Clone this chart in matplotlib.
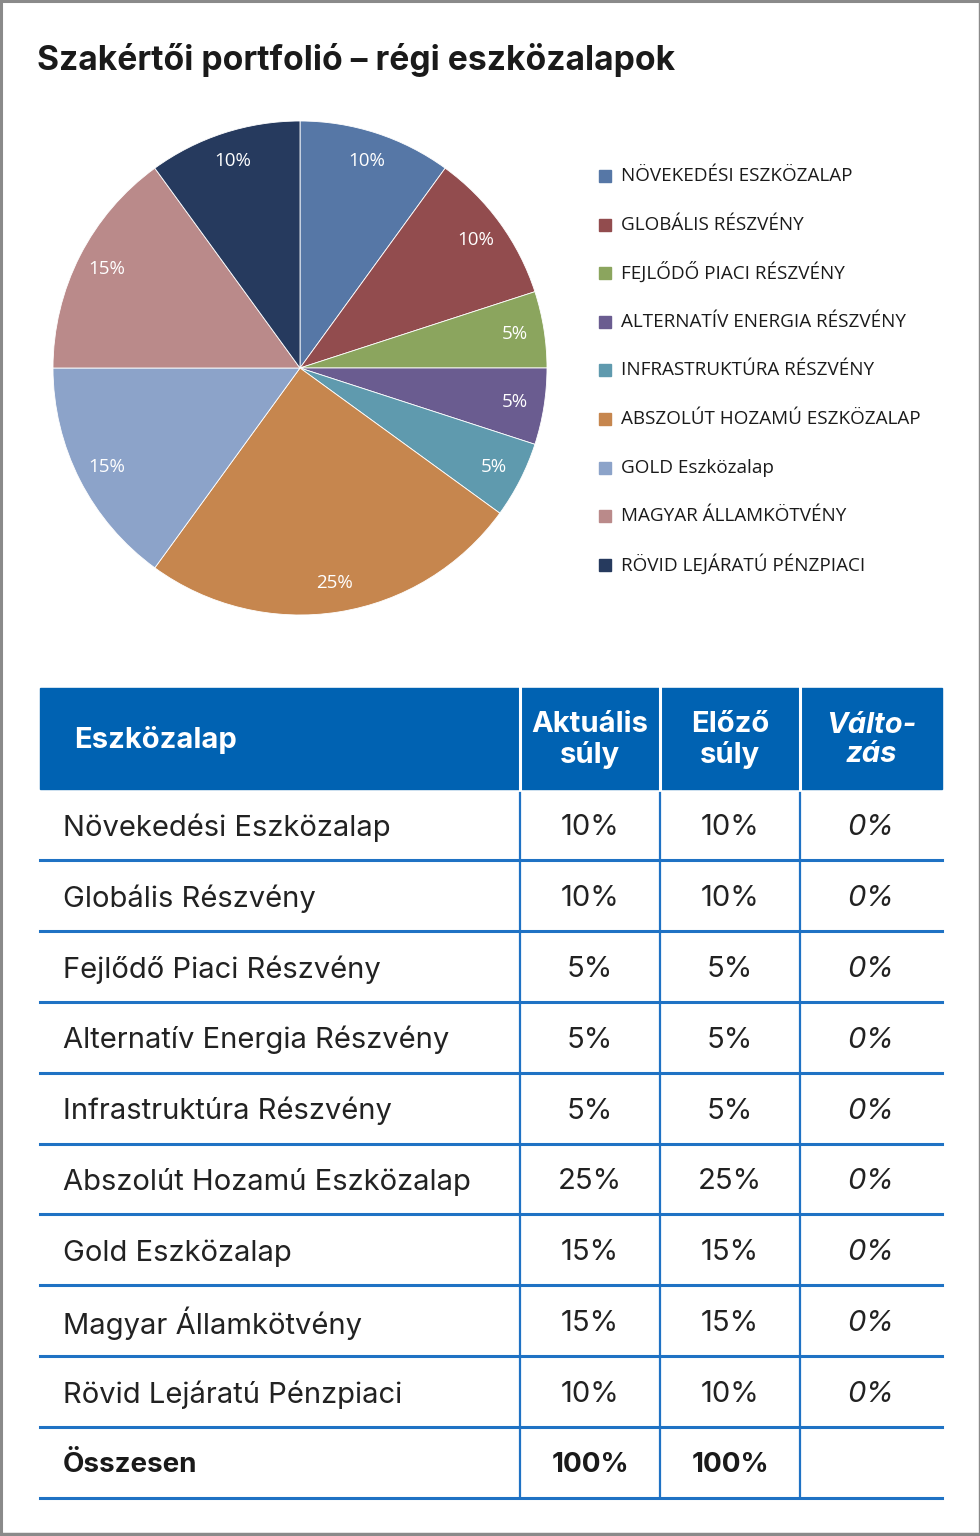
import matplotlib.pyplot as plt
from matplotlib.patches import Rectangle

# -----------------------------
# Data
# -----------------------------
title = "Szakértői portfolió – régi eszközalapok"

legend_labels = [
    "NÖVEKEDÉSI ESZKÖZALAP",
    "GLOBÁLIS RÉSZVÉNY",
    "FEJLŐDŐ PIACI RÉSZVÉNY",
    "ALTERNATÍV ENERGIA RÉSZVÉNY",
    "INFRASTRUKTÚRA RÉSZVÉNY",
    "ABSZOLÚT HOZAMÚ ESZKÖZALAP",
    "GOLD Eszközalap",
    "MAGYAR ÁLLAMKÖTVÉNY",
    "RÖVID LEJÁRATÚ PÉNZPIACI",
]
weights = [10, 10, 5, 5, 5, 25, 15, 15, 10]
colors = ["#5677A6", "#924C4E", "#8BA55E", "#6A5C90", "#5F9AAE",
          "#C6864E", "#8CA3C9", "#BA8A8A", "#263A5E"]

table_header = ["Eszközalap", "Aktuális\nsúly", "Előző\nsúly", "Válto-\nzás"]
fund_names = [
    "Növekedési Eszközalap",
    "Globális Részvény",
    "Fejlődő Piaci Részvény",
    "Alternatív Energia Részvény",
    "Infrastruktúra Részvény",
    "Abszolút Hozamú Eszközalap",
    "Gold Eszközalap",
    "Magyar Államkötvény",
    "Rövid Lejáratú Pénzpiaci",
]
current_weight = [10, 10, 5, 5, 5, 25, 15, 15, 10]
previous_weight = [10, 10, 5, 5, 5, 25, 15, 15, 10]
change = [0, 0, 0, 0, 0, 0, 0, 0, 0]
total_label = "Összesen"

# -----------------------------
# Figure (pixel-based layout)
# -----------------------------
W, H = 980, 1536
fig = plt.figure(figsize=(W / 100, H / 100), dpi=100)
fig.patch.set_facecolor("white")

# background axes in pixel coordinates
bg = fig.add_axes([0, 0, 1, 1])
bg.set_xlim(0, W)
bg.set_ylim(H, 0)
bg.axis("off")

# outer gray frame
bg.plot([1, 1], [0, 1534], color="#8a8a8a", lw=2.2)
bg.plot([0, W], [1, 1], color="#8a8a8a", lw=2.2)
bg.plot([0, W], [1534, 1534], color="#8a8a8a", lw=2.5)
bg.plot([979, 979], [0, 1534], color="#8a8a8a", lw=1.0)

head_font = "Inter"
body_font = "Open Sans"

bg.text(37, 60, title, fontsize=24.2, fontweight="bold", family=head_font,
        color="#1a1a1a", ha="left", va="center")

# -----------------------------
# Pie
# -----------------------------
cx, cy, r = 300, 368, 247
pie_ax = fig.add_axes([(cx - r) / W, 1 - (cy + r) / H, 2 * r / W, 2 * r / H])
wedges, _, autotexts = pie_ax.pie(
    weights, colors=colors, startangle=90, counterclock=False,
    autopct="%d%%", pctdistance=0.88,
    wedgeprops=dict(linewidth=0.6, edgecolor="white"),
    textprops=dict(color="white", fontsize=13.5, family=body_font),
)
pie_ax.set_xlim(-1, 1)
pie_ax.set_ylim(-1, 1)
pie_ax.set_aspect("equal")

# legend
leg_y0, leg_dy = 176, 48.6
for i, (lab, col) in enumerate(zip(legend_labels, colors)):
    y = leg_y0 + i * leg_dy
    bg.add_patch(Rectangle((599, y - 6), 12, 12, color=col))
    bg.text(621, y, lab, fontsize=13.6, family=body_font, color="#1a1a1a",
            ha="left", va="center")

# -----------------------------
# Table
# -----------------------------
blue = "#0062B2"
line_blue = "#1F72C4"
tx0, tx1 = 40, 942
col_edges = [40, 520, 660, 800, 942]
head_top, head_bot = 688, 789
row_h = 70.9

bg.add_patch(Rectangle((tx0, head_top), tx1 - tx0, head_bot - head_top,
                       color=blue, zorder=1))
for x in col_edges[1:-1]:
    bg.plot([x, x], [head_top, head_bot], color="white", lw=2.2, zorder=2)

bg.text(74, 740, table_header[0], fontsize=21, fontweight="bold",
        family=head_font, color="white", ha="left", va="center")
for j, h in enumerate(table_header[1:], start=1):
    xc = (col_edges[j] + col_edges[j + 1]) / 2
    bg.text(xc, 740, h, fontsize=21, fontweight="bold", family=head_font,
            color="white", ha="center", va="center", linespacing=1.1,
            style="italic" if j == 3 else "normal")

n_rows = len(fund_names) + 1
table_bottom = head_bot + n_rows * row_h
for x in col_edges[1:-1]:
    bg.plot([x, x], [head_bot + 4, table_bottom], color=line_blue, lw=1.6)

for i in range(n_rows):
    y_line = head_bot + (i + 1) * row_h
    bg.plot([tx0, tx1], [y_line, y_line], color=line_blue, lw=2.2)

for i, name in enumerate(fund_names):
    yc = head_bot + (i + 0.5) * row_h + 3
    bg.text(63, yc, name, fontsize=21, family=head_font,
            color="#222222", ha="left", va="center")
    vals = [f"{current_weight[i]}%", f"{previous_weight[i]}%", f"{change[i]}%"]
    for j, v in enumerate(vals, start=1):
        xc = (col_edges[j] + col_edges[j + 1]) / 2
        bg.text(xc, yc, v, fontsize=21, family=head_font,
                color="#222222", ha="center", va="center",
                style="italic" if j == 3 else "normal")

# total row
yc = head_bot + (n_rows - 0.5) * row_h + 2
bg.text(63, yc, total_label, fontsize=20, fontweight="bold", family=head_font,
        color="#1a1a1a", ha="left", va="center")
totals = [f"{sum(current_weight)}%", f"{sum(previous_weight)}%"]
for j, v in enumerate(totals, start=1):
    xc = (col_edges[j] + col_edges[j + 1]) / 2
    bg.text(xc, yc, v, fontsize=20, fontweight="bold", family=head_font,
            color="#1a1a1a", ha="center", va="center")

fig.savefig("out.png", dpi=100)
